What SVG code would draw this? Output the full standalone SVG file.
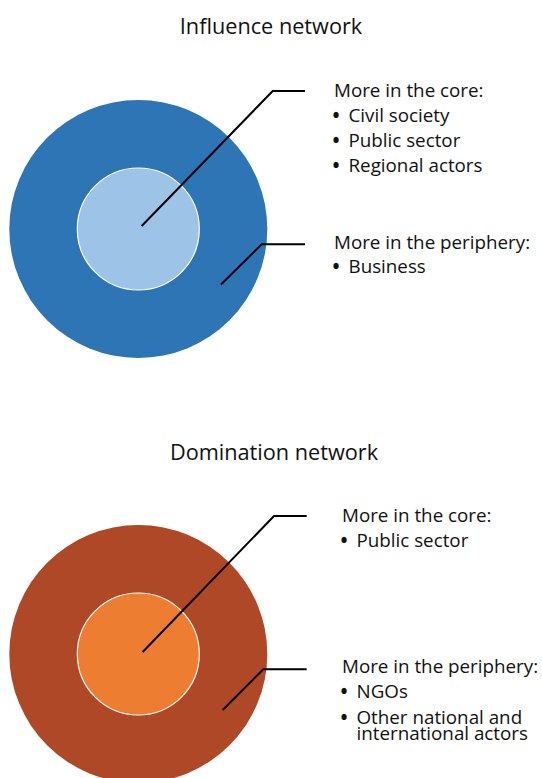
<svg xmlns="http://www.w3.org/2000/svg" width="542" height="778" viewBox="0 0 542 778">
<style>
text{font-family:"Open Sans","Noto Sans","Liberation Sans",sans-serif;fill:#111}
.title{font-size:21.7px;text-anchor:middle}
.lbl{font-size:18.8px}
.bul{font-weight:bold}
.lead{fill:none;stroke:#000;stroke-width:2;stroke-linejoin:miter}
.inner{stroke:#fff;stroke-width:1.2}
</style>
<rect width="542" height="778" fill="#fff"/>
<g id="influence">
  <text class="title" x="271" y="34">Influence network</text>
  <g id="influence-periphery"><circle cx="138.3" cy="229" r="129" fill="#2E75B6"/></g>
  <g id="influence-core"><circle class="inner" cx="138.3" cy="229" r="61" fill="#9DC3E6"/></g>
  <g id="influence-core-label">
    <text class="lbl" x="334" y="97">More in the core:</text>
    <text class="lbl" y="122"><tspan class="bul" x="332.5">•</tspan><tspan x="348.5">Civil society</tspan></text>
    <text class="lbl" y="147"><tspan class="bul" x="332.5">•</tspan><tspan x="348.5">Public sector</tspan></text>
    <text class="lbl" y="172"><tspan class="bul" x="332.5">•</tspan><tspan x="348.5">Regional actors</tspan></text>
  </g>
  <g id="influence-periphery-label">
    <text class="lbl" x="334" y="249">More in the periphery:</text>
    <text class="lbl" y="273"><tspan class="bul" x="332.5">•</tspan><tspan x="348.5">Business</tspan></text>
  </g>
</g>
<g id="domination">
  <text class="title" x="274" y="460">Domination network</text>
  <g id="domination-periphery"><circle cx="138.3" cy="654" r="129" fill="#AF4826"/></g>
  <g id="domination-core"><circle class="inner" cx="138.3" cy="654" r="61" fill="#ED7D31"/></g>
  <g id="domination-core-label">
    <text class="lbl" x="342" y="522">More in the core:</text>
    <text class="lbl" y="547"><tspan class="bul" x="340.5">•</tspan><tspan x="356.5">Public sector</tspan></text>
  </g>
  <g id="domination-periphery-label">
    <text class="lbl" x="342" y="673">More in the periphery:</text>
    <text class="lbl" y="698"><tspan class="bul" x="340.5">•</tspan><tspan x="356.5">NGOs</tspan></text>
    <text class="lbl" y="723.5"><tspan class="bul" x="340.5">•</tspan><tspan x="356.5">Other national and</tspan><tspan x="356.5" dy="16">international actors</tspan></text>
  </g>
</g>
<g id="connectors">
  <polyline class="lead" points="141.7,226 272.7,91 305,91"/>
  <polyline class="lead" points="221,284.5 261.7,244.3 305,244.3"/>
  <polyline class="lead" points="142.7,652 274,516 306.7,516"/>
  <polyline class="lead" points="222.7,710 263.3,669.3 306.7,669.3"/>
</g>
</svg>
